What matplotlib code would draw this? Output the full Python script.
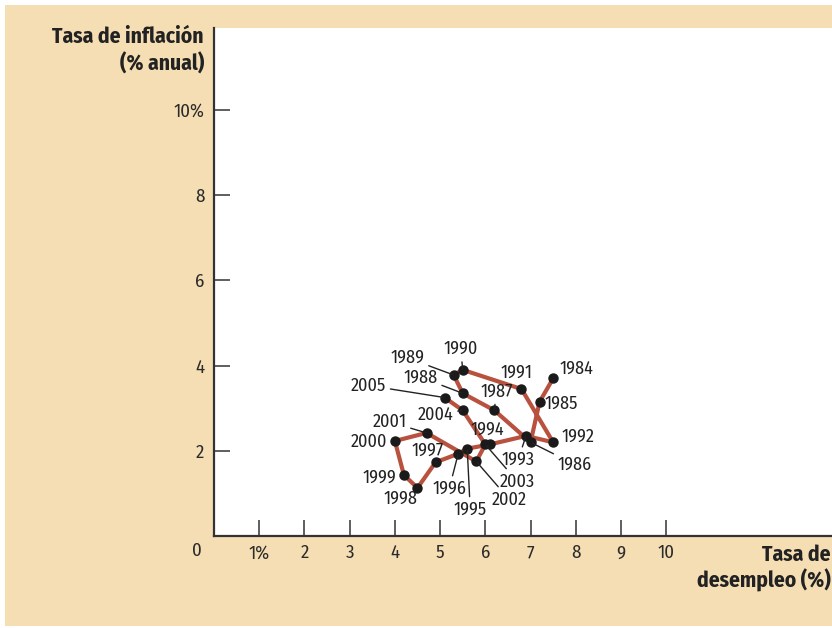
import matplotlib
matplotlib.use("Agg")
import matplotlib.pyplot as plt
from matplotlib.patches import Rectangle

# datos: desempleo (%) e inflación (% anual), 1984-2005
years = ["1984", "1985", "1986", "1987", "1988", "1989", "1990", "1991",
         "1992", "1993", "1994", "1995", "1996", "1997", "1998", "1999",
         "2000", "2001", "2002", "2003", "2004", "2005"]
unemployment = [7.5, 7.2, 7.0, 6.2, 5.5, 5.3, 5.5, 6.8,
                7.5, 6.9, 6.1, 5.6, 5.4, 4.9, 4.5, 4.2,
                4.0, 4.7, 5.8, 6.0, 5.5, 5.1]
inflation = [3.7, 3.15, 2.2, 2.95, 3.35, 3.78, 3.9, 3.45,
             2.2, 2.35, 2.15, 2.05, 1.93, 1.73, 1.13, 1.43,
             2.23, 2.42, 1.75, 2.15, 2.95, 3.25]
x_ticks = [1, 2, 3, 4, 5, 6, 7, 8, 9, 10]
x_ticklabels = ["1%", "2", "3", "4", "5", "6", "7", "8", "9", "10"]
y_ticks = [2, 4, 6, 8, 10]
y_ticklabels = ["2", "4", "6", "8", "10%"]

# posición de cada etiqueta respecto al punto (px), y si lleva línea guía
label_offsets = {
    "1984": (23, 10, False), "1985": (22, -2, False), "1986": (44, -22, True),
    "1987": (2, 19, True), "1988": (-42, 16, True), "1989": (-46, 17, True),
    "1990": (-2, 21, True), "1991": (-5, 16, False), "1992": (25, 6, False),
    "1993": (-8, -24, True), "1994": (-3, 15, False), "1995": (3, -61, True),
    "1996": (-9, -35, True), "1997": (-8, 12, True), "1998": (-17, -11, False),
    "1999": (-25, -3, False), "2000": (-26, -1, False), "2001": (-37, 11, True),
    "2002": (33, -38, True), "2003": (32, -37, True), "2004": (-27, -4, True),
    "2005": (-76, 12, True),
}

DPI = 100
W, H = 832, 628
plt.rcParams["font.family"] = ["Fira Sans Condensed", "DejaVu Sans"]

fig = plt.figure(figsize=(W / DPI, H / DPI), dpi=DPI, facecolor="white")
bg = Rectangle((5 / W, 2 / H), 1 - 5 / W, 621 / H,
               transform=fig.transFigure, facecolor="#f5deb3",
               edgecolor="none", zorder=-10)
fig.add_artist(bg)

ax = fig.add_axes([214 / W, (H - 536) / H, 1 - 214 / W, 508 / H])
ax.set_facecolor("white")
ax.set_xlim(0, 618 / 45.22)
ax.set_ylim(0, 508 / 42.6)

for side in ["top", "right"]:
    ax.spines[side].set_visible(False)
for side in ["left", "bottom"]:
    ax.spines[side].set_color("#333333")
    ax.spines[side].set_linewidth(1.6)

ax.set_xticks(x_ticks)
ax.set_xticklabels(x_ticklabels)
ax.set_yticks(y_ticks)
ax.set_yticklabels(y_ticklabels)
ax.tick_params(axis="both", direction="in", length=11.5, width=1.1,
               color="#333333", labelsize=13.5, labelcolor="#2b2b2b")
ax.tick_params(axis="x", pad=6)
ax.tick_params(axis="y", pad=7)

ax.plot(unemployment, inflation, color="#b9513f", lw=3.0, zorder=2,
        solid_capstyle="round", solid_joinstyle="round")
ax.plot(unemployment, inflation, "o", color="#1a1a1a", ms=6.5, zorder=3)

k = 72 / DPI
for yr, ux, inf in zip(years, unemployment, inflation):
    dx, dy, leader = label_offsets[yr]
    arrow = None
    if leader:
        arrow = dict(arrowstyle="-", color="#222222", lw=1.0,
                     shrinkA=1, shrinkB=1)
    ax.annotate(yr, (ux, inf), xytext=(dx * k, dy * k),
                textcoords="offset points", ha="center", va="center",
                fontsize=13, color="#222222", arrowprops=arrow, zorder=4)

# textos de los ejes
fig.text(197 / W, 1 - 551 / H, "0", ha="center", va="center",
         fontsize=13.5, color="#2b2b2b")
fig.text(204 / W, 1 - 37 / H, "Tasa de inflación", ha="right", va="center",
         fontsize=15.5, fontweight="bold", color="#222222")
fig.text(204 / W, 1 - 64 / H, "(% anual)", ha="right", va="center",
         fontsize=15.5, fontweight="bold", color="#222222")
fig.text(831 / W, 1 - 555 / H, "Tasa de", ha="right", va="center",
         fontsize=15.5, fontweight="bold", color="#222222")
fig.text(831 / W, 1 - 580 / H, "desempleo (%)", ha="right", va="center",
         fontsize=15.5, fontweight="bold", color="#222222")

fig.savefig("out.png", dpi=DPI, facecolor=fig.get_facecolor())
plt.close(fig)
